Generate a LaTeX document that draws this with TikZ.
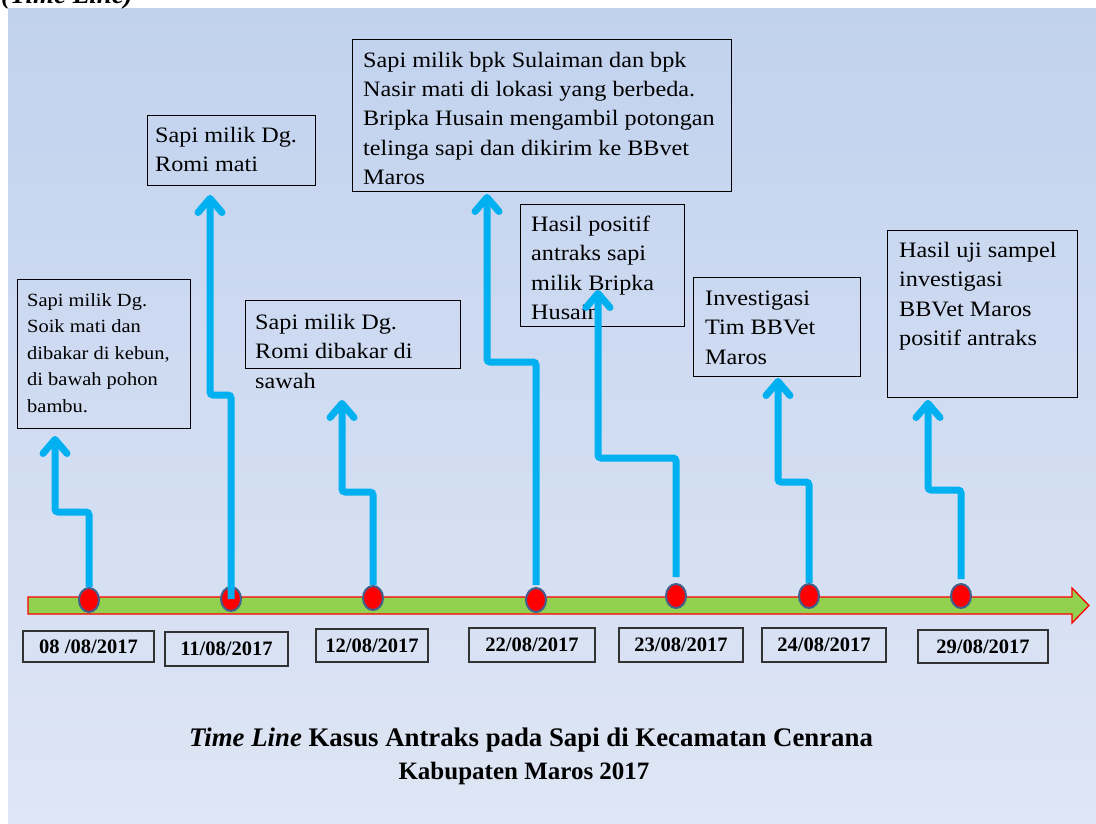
\documentclass[tikz,border=0pt]{standalone}
\usepackage{fontspec}
\setmainfont{Liberation Serif}
\newfontfamily\bxfont{Liberation Serif}[FakeStretch=1.1]
\usetikzlibrary{arrows.meta,calc,shapes.geometric}
\definecolor{bgtop}{RGB}{193,210,238}
\definecolor{bgbot}{RGB}{223,230,245}
\definecolor{cyanar}{RGB}{0,176,240}
\definecolor{barfill}{RGB}{146,208,80}
\definecolor{dotbd}{RGB}{65,96,140}
\definecolor{dateln}{RGB}{50,50,50}
\newcommand\evlines[1]{\begin{tabular}[t]{@{}l@{}}#1\end{tabular}}
\begin{document}
\begin{tikzpicture}[x=1pt,y=-1pt,
  evbox/.style={draw=black,line width=1.1pt,anchor=north west,inner sep=0pt},
  evtxt/.style={anchor=base west,inner sep=0pt,font=\bxfont},
  datebox/.style={draw=dateln,line width=1.4pt,inner sep=0pt,font=\fontsize{20.5}{24}\selectfont\bfseries},
  dotst/.style={ellipse,minimum width=20pt,minimum height=24pt,inner sep=0pt,fill=red,draw=dotbd,line width=2pt},
  tl/.style={draw=cyanar,line width=7pt,rounded corners=3pt,-{Straight Barb[length=14pt,width=24pt,round]}}
]
\clip (0,0) rectangle (1096,823);
\fill[white] (0,0) rectangle (1096,823);
\shade[top color=bgtop,bottom color=bgbot] (8,8) rectangle (1096,823);
\node[anchor=base west,inner sep=0pt] (ttl) at (1,3) {\fontsize{27}{30}\selectfont\bfseries\itshape (Time Line)};

% timeline bar
\filldraw[fill=barfill,draw=red,line width=1.3pt] (28,597) -- (1072,597) -- (1072,588) -- (1089,605.5) -- (1072,623) -- (1072,614) -- (28,614) -- cycle;

% event boxes
\node[evbox,minimum width=173pt,minimum height=149pt] (b1) at (17,279) {};
\node[evtxt] (t1) at (27,306) {\fontsize{18.6}{26.5}\selectfont\evlines{Sapi milik Dg.\\ Soik mati dan\\ dibakar di kebun,\\ di bawah pohon\\ bambu.}};
\node[evbox,minimum width=168pt,minimum height=70pt] (b2) at (147,115) {};
\node[evtxt] (t2) at (155,142) {\fontsize{22}{29.5}\selectfont\evlines{Sapi milik Dg.\\ Romi mati}};
\node[evbox,minimum width=215pt,minimum height=68pt] (b3) at (245,300) {};
\node[evtxt] (t3) at (255,329) {\fontsize{22}{29.5}\selectfont\evlines{Sapi milik Dg.\\ Romi dibakar di\\ sawah}};
\node[evbox,minimum width=379pt,minimum height=152pt] (b4) at (352,39) {};
\node[evtxt] (t4) at (363,67) {\fontsize{22}{29.4}\selectfont\evlines{Sapi milik bpk Sulaiman dan bpk\\ Nasir mati di lokasi yang berbeda.\\ Bripka Husain mengambil potongan\\ telinga sapi dan dikirim ke BBvet\\ Maros}};
\node[evbox,minimum width=164pt,minimum height=122pt] (b5) at (520,204) {};
\node[evtxt] (t5) at (531,231) {\fontsize{22}{29.5}\selectfont\evlines{Hasil positif\\ antraks sapi\\ milik Bripka\\ Husain}};
\node[evbox,minimum width=167pt,minimum height=99pt] (b6) at (693,277) {};
\node[evtxt] (t6) at (705,305) {\fontsize{22}{29.5}\selectfont\evlines{Investigasi\\ Tim BBVet\\ Maros}};
\node[evbox,minimum width=190pt,minimum height=167pt] (b7) at (887,230) {};
\node[evtxt] (t7) at (899,257) {\fontsize{22}{29.5}\selectfont\evlines{Hasil uji sampel\\ investigasi\\ BBVet Maros\\ positif antraks}};

% dots
\node[dotst] (d1) at (89,600) {};
\node[dotst] (d2) at (231,599) {};
\node[dotst] (d3) at (373,598) {};
\node[dotst] (d4) at (536,600) {};
\node[dotst] (d5) at (676,596) {};
\node[dotst] (d6) at (809,596) {};
\node[dotst] (d7) at (961,596) {};

% bend points and tips
\coordinate (k1) at (55,512);  \coordinate (e1) at (55,436);
\coordinate (k2) at (210,395); \coordinate (e2) at (210,195);
\coordinate (k3) at (342,492); \coordinate (e3) at (342,400);
\coordinate (k4) at (487,362); \coordinate (e4) at (487,194);
\coordinate (k5) at (598,458); \coordinate (e5) at (598,290);
\coordinate (k6) at (778,482); \coordinate (e6) at (778,378);
\coordinate (k7) at (928,490); \coordinate (e7) at (928,400);

\draw[tl] (d1.north) |- (k1) -- (e1);
\draw[tl] (d2.center) |- (k2) -- (e2);
\draw[tl] (d3.north) |- (k3) -- (e3);
\draw[tl] ($(d4.north)+(0,-2)$) |- (k4) -- (e4);
\draw[tl] ($(d5.north)+(0,-6)$) |- (k5) -- (e5);
\draw[tl] (d6.north) |- (k6) -- (e6);
\draw[tl] ($(d7.north)+(0,-4)$) |- (k7) -- (e7);

% dates
\node[datebox,minimum width=131pt,minimum height=31pt] (D1) at (88.5,646.5) {08 /08/2017};
\node[datebox,minimum width=123pt,minimum height=34pt] (D2) at (226.5,649) {11/08/2017};
\node[datebox,minimum width=112pt,minimum height=33pt] (D3) at (372,645.5) {12/08/2017};
\node[datebox,minimum width=126pt,minimum height=34pt] (D4) at (532,645) {22/08/2017};
\node[datebox,minimum width=124pt,minimum height=34pt] (D5) at (681,645) {23/08/2017};
\node[datebox,minimum width=124pt,minimum height=34pt] (D6) at (824,645) {24/08/2017};
\node[datebox,minimum width=130pt,minimum height=33pt] (D7) at (983,646.5) {29/08/2017};

% caption
\node[anchor=base,inner sep=0pt] (cap1) at (531,746) {\fontsize{26.8}{30}\selectfont\bfseries\textit{Time Line} Kasus Antraks pada Sapi di Kecamatan Cenrana};
\node[anchor=base,inner sep=0pt] (cap2) at (524,779) {\fontsize{25}{30}\selectfont\bfseries Kabupaten Maros 2017};
\end{tikzpicture}
\end{document}
